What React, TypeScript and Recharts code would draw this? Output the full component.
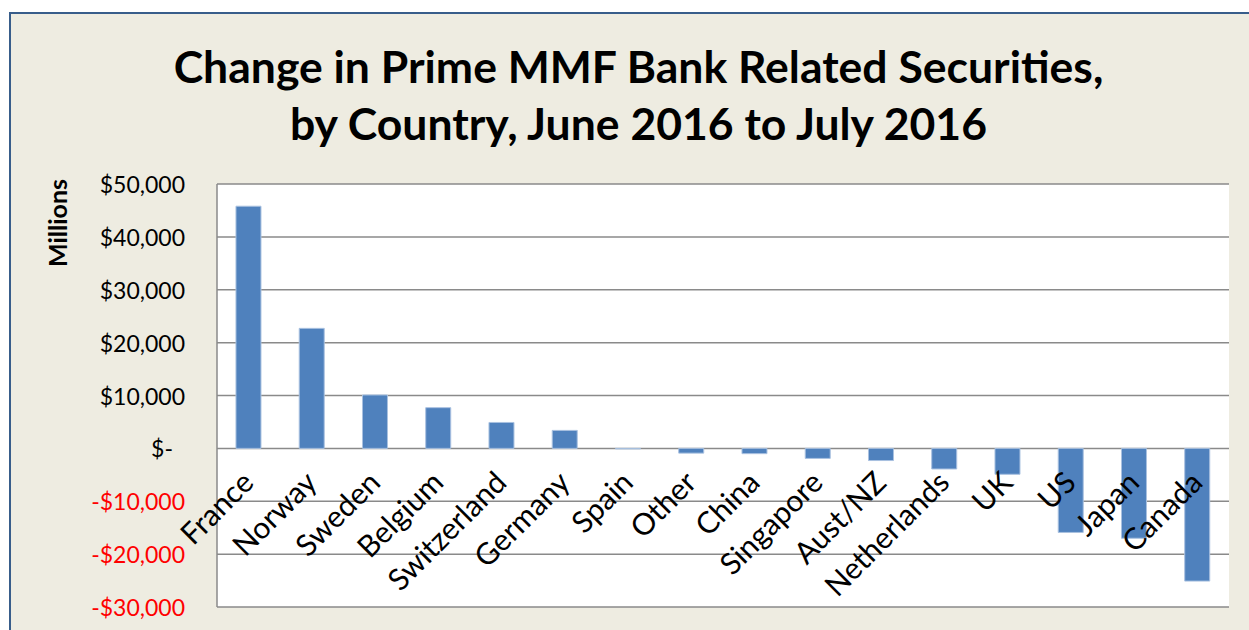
import React from "react";
import { BarChart, Bar, XAxis, YAxis, CartesianGrid, LabelList } from "recharts";

const countries = ["France", "Norway", "Sweden", "Belgium", "Switzerland", "Germany", "Spain", "Other", "China", "Singapore", "Aust/NZ", "Netherlands", "UK", "US", "Japan", "Canada"];
const changes = [45800, 22700, 10100, 7700, 4900, 3400, -100, -900, -1000, -1900, -2300, -3900, -4900, -15900, -17000, -25100];
const yTicks = [-30000, -20000, -10000, 0, 10000, 20000, 30000, 40000, 50000];
const titleLines = ["Change in Prime MMF Bank Related Securities,", "by Country, June 2016 to July 2016"];
const yAxisTitle = "Millions";

const data = countries.map((c, i) => ({ country: c, change: changes[i] }));

const fmt = (v: number) => {
  if (v === 0) return "$-";
  const s = "$" + Math.abs(v).toLocaleString("en-US");
  return v < 0 ? "-" + s : s;
};

const YTick = (props: any) => {
  const { x, y, payload } = props;
  const v = payload.value;
  return (
    <text x={v === 0 ? x - 12 : x} y={y} textAnchor="end" dominantBaseline="central" fontFamily="Lato" fontSize={23} fill={v < 0 ? "#FF0000" : "#000"}>
      {fmt(v)}
    </text>
  );
};

const CatLabel = (props: any) => {
  const vb = props.viewBox || props;
  const x = vb.x ?? props.x;
  const y = vb.y ?? props.y;
  const width = vb.width ?? props.width;
  const height = vb.height ?? props.height;
  const idx = props.index;
  const val = changes[idx] ?? 0;
  let zero: number;
  if (height < 0) zero = y + height;
  else zero = val >= 0 ? y + height : y;
  const cx = x + width / 2 + 7;
  const cy = zero + 36;
  return (
    <text x={cx} y={cy} transform={`rotate(-45 ${cx} ${cy})`} textAnchor="end" fontFamily="Lato" fontSize={30} fill="#000">
      {props.value}
    </text>
  );
};

export default function App() {
  return (
    <div style={{ position: "absolute", left: 0, top: 0, width: 1249, height: 630, background: "#fff", overflow: "hidden", fontFamily: "Lato" }}>
      <div style={{ position: "absolute", left: 9, top: 12, width: 1300, height: 700, background: "#EEECE1", borderLeft: "2px solid #385D8A", borderTop: "2px solid #385D8A" }} />
      <div style={{ position: "absolute", left: 0, width: 1277, top: 37, textAlign: "center", fontWeight: 700, fontSize: 44.5, lineHeight: "57px", color: "#000" }}>
        <div>{titleLines[0]}</div>
        <div>{titleLines[1]}</div>
      </div>
      <div style={{ position: "absolute", left: 0, top: 0 }}>
        <BarChart width={1249} height={630} data={data} margin={{ top: 184, right: 20, bottom: 23, left: 0 }} barCategoryGap="30%">
          <CartesianGrid vertical={false} stroke="#8A8A8A" strokeWidth={1.5} fill="#FFFFFF" />
          <XAxis dataKey="country" hide />
          <YAxis
            width={217}
            domain={[-30000, 50000]}
            ticks={yTicks}
            interval={0}
            tickSize={0}
            tickMargin={32}
            axisLine={{ stroke: "#8A8A8A", strokeWidth: 1.5 }}
            tickLine={false}
            tick={<YTick />}
            label={{
              content: () => (
                <text x={57} y={223} transform="rotate(-90 57 223)" textAnchor="middle" dominantBaseline="central" fontFamily="Lato" fontWeight={700} fontSize={25} fill="#000">
                  {yAxisTitle}
                </text>
              ),
            }}
          />
          <Bar dataKey="change" fill="#4F81BD" stroke="#A9C1E0" strokeWidth={1} isAnimationActive={false}>
            <LabelList dataKey="country" content={<CatLabel />} />
          </Bar>
        </BarChart>
      </div>
    </div>
  );
}
